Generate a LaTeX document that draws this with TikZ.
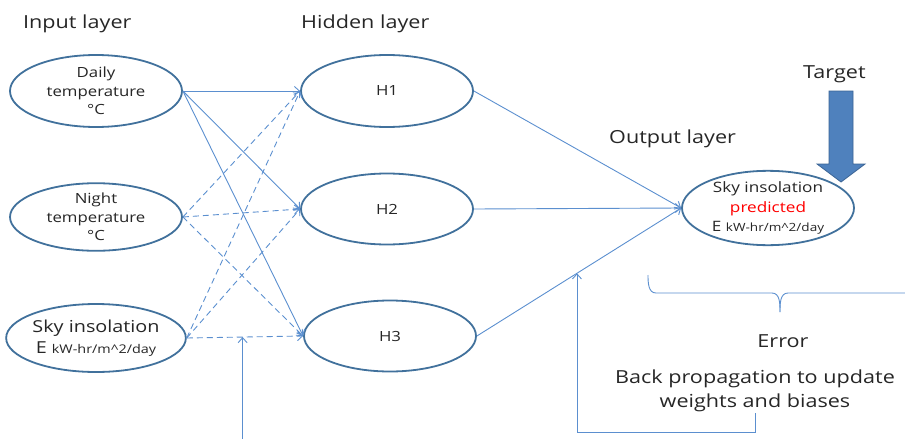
\documentclass[tikz,border=0pt]{standalone}
\usepackage{fontspec}
\setmainfont[FakeStretch=1.2]{Open Sans}
\usetikzlibrary{shapes.geometric,arrows.meta,calc}
\definecolor{edgeblue}{HTML}{41719C}
\definecolor{lineblue}{HTML}{5B8FCF}
\definecolor{txt}{HTML}{262626}
\definecolor{tfill}{HTML}{4F81BD}
\definecolor{tdraw}{HTML}{3A6394}
\tikzset{
  neuron/.style={ellipse, draw=edgeblue, line width=1.8pt, fill=white, inner sep=0pt,
    minimum width=172pt, minimum height=71pt, text=txt, align=center},
  conn/.style={draw=lineblue, line width=0.9pt, -{Straight Barb[length=5pt,width=9pt]}},
  dconn/.style={conn, dash pattern=on 6pt off 4pt},
  title/.style={text=txt, inner sep=0pt, font=\fontsize{18}{22}\selectfont},
}
\begin{document}
\begin{tikzpicture}[x=1pt,y=-1pt]
\useasboundingbox (0,0) rectangle (905,439);
% titles
\node[title, anchor=base west] (tin) at (23,28) {Input layer};
\node[title, anchor=base west] (thid) at (301,28) {Hidden layer};
\node[title, anchor=base west] (tout) at (609,143) {Output layer};
\node[title, anchor=base west] (ttar) at (803,78) {Target};
% input nodes
\node[neuron, minimum height=72pt, font=\fontsize{14}{18.5}\selectfont] (d) at (96,91) {Daily\\temperature\\°C};
\node[neuron, minimum height=66pt, font=\fontsize{14}{18.5}\selectfont] (n) at (96,217) {Night\\temperature\\°C};
\node[neuron, minimum height=68pt, font=\fontsize{16.5}{21}\selectfont] (s) at (96,338) {Sky insolation\\E {\fontsize{12}{14}\selectfont kW-hr/m\textasciicircum 2/day}};
% hidden nodes
\node[neuron, minimum height=72pt, font=\fontsize{14}{17}\selectfont] (h1) at (387,91) {H1};
\node[neuron, font=\fontsize{14}{17}\selectfont] (h2) at (387,209) {H2};
\node[neuron, font=\fontsize{14}{17}\selectfont] (h3) at (390,336) {H3};
% output node
\node[neuron, minimum height=70pt, font=\fontsize{14.3}{19.5}\selectfont] (o) at (768,208) {Sky insolation\\\textcolor{red}{predicted}\\E {\fontsize{11.3}{13}\selectfont kW-hr/m\textasciicircum 2/day}};
% input -> hidden
\draw[conn] (d.east) -- (h1.west);
\draw[conn] (d.east) -- (h2.west);
\draw[conn] (d.east) -- (h3.west);
\draw[dconn] (n.east) -- (h1.west);
\draw[dconn] (n.east) -- (h2.west);
\draw[dconn] (n.east) -- (h3.west);
\draw[dconn] (s.east) -- (h1.west);
\draw[dconn] (s.east) -- (h2.west);
\draw[dconn] (s.east) -- (h3.west);
% hidden -> output
\draw[conn] (h1.east) -- (o.west);
\draw[conn] (h2.east) -- (o.west);
\draw[conn] (h3.east) -- (o.west);
% target arrow
\draw[draw=tdraw, fill=tfill, line width=0.8pt] (829,91) -- (853,91) -- (853,164) -- (865,164) -- (841,182) -- (817,164) -- (829,164) -- cycle;
% error brace
\draw[lineblue, line width=0.9pt] (648,275) to[out=-90,in=180] (656,293) -- (772,293) to[out=0,in=90] (780,312);
\draw[lineblue, line width=0.9pt] (780,312) to[out=90,in=180] (788,293) -- (910,293);
% texts
\node[title, anchor=base] (err) at (783,347) {Error};
\node[title, align=center, font=\fontsize{18}{24}\selectfont, inner sep=1pt] (bp) at (755,391) {Back propagation to update\\weights and biases};
% feedback arrows
\coordinate (bpt) at ($(h3.east)!0.49!(o.west)$);
\draw[conn] (bp.south) -- ++(0,19) -| (bpt);
\coordinate (lpt) at ($(s.east)!0.48!(h3.west)$);
\draw[conn] (lpt |- 0,440) -- (lpt);
\end{tikzpicture}
\end{document}
